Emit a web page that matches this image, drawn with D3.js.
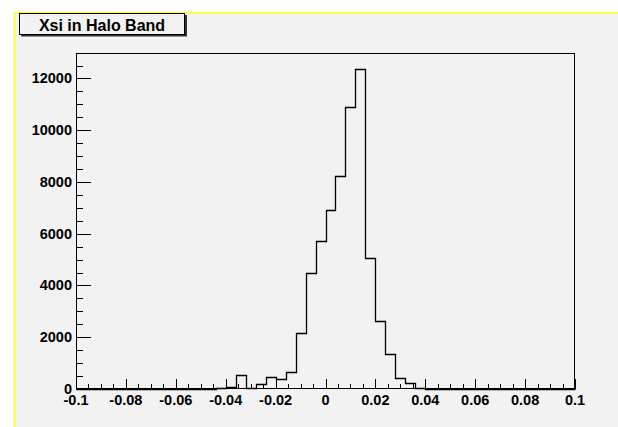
<!DOCTYPE html>
<html>
<head>
<meta charset="utf-8">
<script src="https://cdn.jsdelivr.net/npm/d3@7"></script>
<style>
    html, body { margin: 0; padding: 0; background: #fff; }
    svg { display: block; }
    text { font-family: "Liberation Sans", Arial, Helvetica, sans-serif; font-weight: bold; fill: #000; }
</style>
</head>
<body>
<div id="chart"></div>
<script>
"use strict";

// histogram: 50 bins from -0.1 to 0.1
const xMin = -0.1;
const xMax = 0.1;
const counts = [
    0, 0, 0, 0, 0, 0, 0, 0, 0, 0,
    0, 0, 0, 0, 40, 70, 540, 50, 180, 463,
    386, 640, 2150, 4492, 5728, 6914, 8227, 10880, 12367, 5048,
    2614, 1340, 425, 243, 50, 0, 0, 0, 0, 0,
    0, 0, 0, 0, 0, 0, 0, 0, 0, 0
];

const xMajorTicks = [-0.1, -0.08, -0.06, -0.04, -0.02, 0, 0.02, 0.04, 0.06, 0.08, 0.1];
const xTickLabels = ["-0.1", "-0.08", "-0.06", "-0.04", "-0.02", "0", "0.02", "0.04", "0.06", "0.08", "0.1"];
const yMajorTicks = [0, 2000, 4000, 6000, 8000, 10000, 12000];
const yTickLabels = ["0", "2000", "4000", "6000", "8000", "10000", "12000"];
const titleText = "Xsi in Halo Band";

(function () {
    const width = 618;
    const height = 427;
    const frame = { left: 76, right: 575, top: 53, bottom: 389 };

    const yMax = d3.max(counts) * 1.05;
    const binWidth = (xMax - xMin) / counts.length;

    const x = d3.scaleLinear().domain([xMin, xMax]).range([frame.left, frame.right]);
    const y = d3.scaleLinear().domain([0, yMax]).range([frame.bottom, frame.top]);

    const svg = d3.select("#chart")
        .append("svg")
        .attr("width", width)
        .attr("height", height);

    // canvas pad
    svg.append("rect")
        .attr("x", 14).attr("y", 12.5)
        .attr("width", width).attr("height", height)
        .attr("fill", "#f2f2f2");
    svg.append("path")
        .attr("d", `M14.5,${height}V12.7H${width}`)
        .attr("fill", "none")
        .attr("stroke", "#ffff40")
        .attr("stroke-width", 2);

    // frame
    svg.append("rect")
        .attr("x", frame.left + 0.5).attr("y", frame.top + 0.5)
        .attr("width", frame.right - frame.left - 1)
        .attr("height", frame.bottom - frame.top - 1)
        .attr("fill", "none")
        .attr("stroke", "#000")
        .attr("stroke-width", 1);

    // minor ticks
    const xMinor = d3.range(0, 41).map(i => xMin + i * 0.005);
    const yMinor = d3.range(0, 26).map(i => i * 500);

    const axes = svg.append("g").attr("stroke", "#000").attr("stroke-width", 1);

    axes.selectAll("line.xminor")
        .data(xMinor)
        .enter().append("line")
        .attr("x1", d => Math.round(x(d)) + 0.5)
        .attr("x2", d => Math.round(x(d)) + 0.5)
        .attr("y1", frame.bottom)
        .attr("y2", frame.bottom - 5);

    axes.selectAll("line.xmajor")
        .data(xMajorTicks)
        .enter().append("line")
        .attr("x1", d => Math.round(x(d)) + 0.5)
        .attr("x2", d => Math.round(x(d)) + 0.5)
        .attr("y1", frame.bottom)
        .attr("y2", frame.bottom - 10);

    axes.selectAll("line.yminor")
        .data(yMinor.filter(d => y(d) > frame.top))
        .enter().append("line")
        .attr("x1", frame.left)
        .attr("x2", frame.left + 7)
        .attr("y1", d => Math.round(y(d)) + 0.5)
        .attr("y2", d => Math.round(y(d)) + 0.5);

    axes.selectAll("line.ymajor")
        .data(yMajorTicks)
        .enter().append("line")
        .attr("x1", frame.left)
        .attr("x2", frame.left + 15)
        .attr("y1", d => Math.round(y(d)) + 0.5)
        .attr("y2", d => Math.round(y(d)) + 0.5);

    // histogram outline
    const pts = [[xMin, 0]];
    counts.forEach((c, i) => {
        const lo = xMin + i * binWidth;
        pts.push([lo, c], [lo + binWidth, c]);
    });
    pts.push([xMax, 0]);

    const line = d3.line()
        .x(d => Math.round(x(d[0])) + 0.5)
        .y(d => Math.round(y(d[1])) + 0.5);

    svg.append("path")
        .datum(pts)
        .attr("d", line)
        .attr("fill", "none")
        .attr("stroke", "#000")
        .attr("stroke-width", 1.3);

    // tick labels
    svg.selectAll("text.xlab")
        .data(xMajorTicks)
        .enter().append("text")
        .attr("x", d => x(d))
        .attr("y", 405)
        .attr("text-anchor", "middle")
        .attr("font-size", "14.5px")
        .text((d, i) => xTickLabels[i]);

    svg.selectAll("text.ylab")
        .data(yMajorTicks)
        .enter().append("text")
        .attr("x", 72)
        .attr("y", d => y(d) + 5)
        .attr("text-anchor", "end")
        .attr("font-size", "14.5px")
        .text((d, i) => yTickLabels[i]);

    // title box with shadow
    svg.append("path")
        .attr("d", "M186,15V35.5H21")
        .attr("fill", "none")
        .attr("stroke", "#333")
        .attr("stroke-width", 2);
    svg.append("rect")
        .attr("x", 19.5).attr("y", 13.5)
        .attr("width", 165).attr("height", 21)
        .attr("fill", "#f2f2f2")
        .attr("stroke", "#000")
        .attr("stroke-width", 1);
    svg.append("text")
        .attr("x", 102)
        .attr("y", 30.5)
        .attr("text-anchor", "middle")
        .attr("font-size", "16px")
        .text(titleText);
})();
</script>
</body>
</html>
